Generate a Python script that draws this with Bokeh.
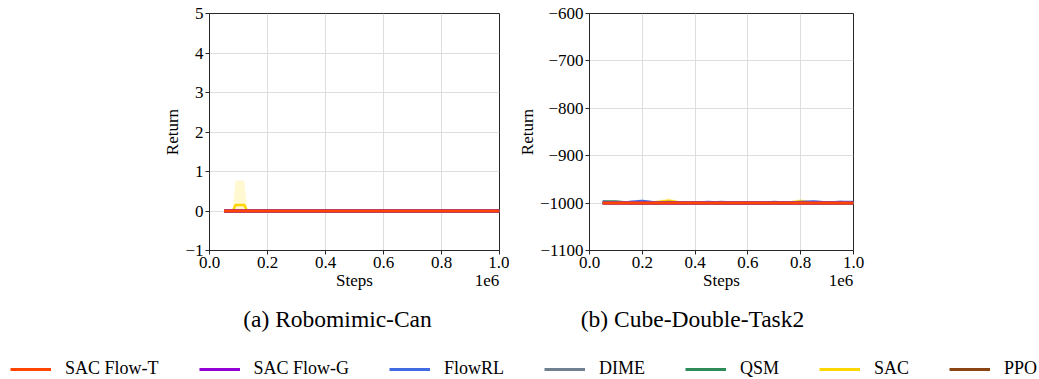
from bokeh.plotting import figure
from bokeh.models import (FixedTicker, CustomJSTickFormatter, Legend,
                          LegendItem, Range1d, LinearAxis, Label)
from bokeh.layouts import column, row
from bokeh.embed import file_html
from bokeh.resources import INLINE

# ---------------- data ----------------
series_names = ["SAC Flow-T", "SAC Flow-G", "FlowRL", "DIME", "QSM", "SAC", "PPO"]
series_colors = ["#FF4500", "#9400D3", "#4169E1", "#708090", "#2E8B57", "#FFD700", "#8B4513"]
captions = ["(a) Robomimic-Can", "(b) Cube-Double-Task2"]

x_ticks = [0, 200000, 400000, 600000, 800000, 1000000]
y_ticks_a = [-1, 0, 1, 2, 3, 4, 5]
y_ticks_b = [-1100, -1000, -900, -800, -700, -600]

# (a) Robomimic-Can
steps_a = [50000, 80000, 90000, 120000, 130000, 200000, 300000, 400000,
           500000, 600000, 700000, 800000, 900000, 1000000]
a_sac_flow_t = [0, 0, 0, 0, 0, 0, 0, 0, 0, 0, 0, 0, 0, 0]
a_sac_flow_g = [0, 0, 0, 0, 0, 0, 0, 0, 0, 0, 0, 0, 0, 0]
a_flowrl = [0, 0, 0, 0, 0, 0, 0, 0, 0, 0, 0, 0, 0, 0]
a_dime = [0, 0, 0, 0, 0, 0, 0, 0, 0, 0, 0, 0, 0, 0]
a_qsm = [0, 0, 0, 0, 0, 0, 0, 0, 0, 0, 0, 0, 0, 0]
a_sac = [0, 0, 0.15, 0.15, 0, 0, 0, 0, 0, 0, 0, 0, 0, 0]
a_ppo = [0, 0, 0, 0, 0, 0, 0, 0, 0, 0, 0, 0, 0, 0]
a_sac_upper = [0, 0, 0.77, 0.77, 0, 0, 0, 0, 0, 0, 0, 0, 0, 0]
a_sac_lower = [0, 0, 0, 0, 0, 0, 0, 0, 0, 0, 0, 0, 0, 0]

# (b) Cube-Double-Task2
steps_b = [50000, 100000, 150000, 200000, 250000, 300000, 350000, 400000,
           450000, 500000, 550000, 600000, 650000, 700000, 750000, 800000,
           850000, 900000, 950000, 1000000]
b_sac_flow_t = [-1000, -1000, -1000, -1000, -1000, -1000, -1000, -1000, -1000, -1000,
                -1000, -1000, -1000, -1000, -1000, -1000, -1000, -1000, -1000, -1000]
b_sac_flow_g = [-1000, -1000, -1000, -1000, -1000, -1000, -1000, -1000, -1000, -1000,
                -1000, -1000, -1000, -1000, -1000, -1000, -1000, -1000, -1000, -1000]
b_flowrl = [-998, -999, -998, -996, -999, -1000, -1000, -1000, -998, -1000,
            -1000, -1000, -1000, -999, -1000, -998, -997, -999, -998, -998]
b_dime = [-1000, -1000, -999, -1000, -1000, -998, -1000, -1000, -1000, -998,
          -1000, -1000, -1000, -998, -1000, -1000, -1000, -1000, -998, -1000]
b_qsm = [-997, -997, -1000, -1000, -1000, -1000, -1000, -1000, -1000, -1000,
         -1000, -1000, -1000, -1000, -1000, -1000, -1000, -1000, -1000, -1000]
b_sac = [-1000, -1000, -998, -999, -998, -995, -999, -998, -998, -999,
         -998, -1000, -1000, -1000, -999, -996, -999, -1000, -1000, -1000]
b_ppo = [-1000, -1000, -1000, -1000, -1000, -1000, -1000, -1000, -1000, -1000,
         -1000, -1000, -1000, -1000, -1000, -1000, -1000, -1000, -1000, -1000]
b_flowrl_upper = [-996, -997, -995, -992, -997, -999, -999, -999, -996, -999,
                  -999, -999, -999, -997, -999, -996, -994, -997, -996, -996]
b_flowrl_lower = [-1001, -1001, -1001, -1001, -1001, -1001, -1001, -1001, -1001, -1001,
                  -1001, -1001, -1001, -1001, -1001, -1001, -1001, -1001, -1001, -1001]
b_sac_upper = [-999, -999, -996, -997, -995, -990, -997, -996, -996, -997,
               -996, -999, -999, -999, -997, -991, -997, -999, -999, -999]
b_sac_lower = [-1001, -1001, -1001, -1001, -1001, -1001, -1001, -1001, -1001, -1001,
               -1001, -1001, -1001, -1001, -1001, -1001, -1001, -1001, -1001, -1001]

series_a = [a_sac_flow_t, a_sac_flow_g, a_flowrl, a_dime, a_qsm, a_sac, a_ppo]
series_b = [b_sac_flow_t, b_sac_flow_g, b_flowrl, b_dime, b_qsm, b_sac, b_ppo]

FONT = "Liberation Serif"
INK = "#262626"


def make_panel(frame_w, left_b, right_b, y_lo, y_hi, y_ticks, offset_tick):
    p = figure(frame_width=frame_w, frame_height=237,
               min_border_left=left_b, min_border_right=right_b,
               min_border_top=13, min_border_bottom=45,
               x_range=Range1d(0, 1000000), y_range=Range1d(y_lo, y_hi),
               output_backend="svg", toolbar_location=None)
    p.xaxis.ticker = FixedTicker(ticks=x_ticks)
    p.yaxis.ticker = FixedTicker(ticks=y_ticks)
    p.xaxis.formatter = CustomJSTickFormatter(code="return (tick / 1e6).toFixed(1);")
    p.yaxis.formatter = CustomJSTickFormatter(
        code="return tick < 0 ? '\\u2212' + Math.abs(tick) : '' + tick;")
    for ax in (p.xaxis[0], p.yaxis[0]):
        ax.major_label_text_font = FONT
        ax.major_label_text_font_size = "17px"
        ax.major_label_text_color = "black"
        ax.axis_label_text_font = FONT
        ax.axis_label_text_font_size = "17px"
        ax.axis_label_text_font_style = "normal"
        ax.axis_label_text_color = "black"
        ax.minor_tick_line_color = None
        ax.major_tick_in = 0
        ax.major_tick_out = 4
        ax.major_tick_line_color = INK
        ax.axis_line_color = INK
        ax.major_label_standoff = 2
    p.yaxis.axis_label = "Return"
    p.yaxis.axis_label_standoff = 0
    # second row under the x axis: "Steps" label and the "1e6" offset text
    ax2 = LinearAxis(ticker=FixedTicker(ticks=[500000, offset_tick]),
                     major_label_overrides={500000: "Steps", offset_tick: "1e6"},
                     axis_line_color=None, major_tick_line_color=None,
                     minor_tick_line_color=None, major_tick_in=0, major_tick_out=0,
                     major_label_standoff=0,
                     major_label_text_font=FONT, major_label_text_font_size="17px",
                     major_label_text_color="black")
    p.add_layout(ax2, "below")
    p.grid.grid_line_color = "#dedede"
    p.grid.grid_line_width = 1
    p.outline_line_color = INK
    p.outline_line_width = 1
    p.background_fill_color = "white"
    p.border_fill_color = "white"
    return p


# ---------------- panel (a) ----------------
pa = make_panel(290, 209, 10, -1, 5, y_ticks_a, 957000)
pa.varea(x=steps_a, y1=a_sac_lower, y2=a_sac_upper, fill_color="#FFD700", fill_alpha=0.18)
for name, color, ys in reversed(list(zip(series_names, series_colors, series_a))):
    pa.line(x=steps_a, y=ys, line_color=color, line_width=3 if name != "SAC" else 2.5)

# ---------------- panel (b) ----------------
pb = make_panel(264, 80, 186, -1100, -600, y_ticks_b, 953000)
pb.varea(x=steps_b, y1=b_flowrl_lower, y2=b_flowrl_upper, fill_color="#4169E1", fill_alpha=0.12)
pb.varea(x=steps_b, y1=b_sac_lower, y2=b_sac_upper, fill_color="#FFD700", fill_alpha=0.2)
for name, color, ys in reversed(list(zip(series_names, series_colors, series_b))):
    pb.line(x=steps_b, y=ys, line_color=color, line_width=3 if name != "SAC" else 2.5)

# ---------------- captions + legend strip ----------------
pl = figure(width=1039, height=84, min_border=0, x_axis_type=None, y_axis_type=None,
            x_range=Range1d(0, 1039), y_range=Range1d(0, 84),
            output_backend="svg", toolbar_location=None)
pl.grid.visible = False
pl.outline_line_color = None
for cx, cap in zip([337, 692], captions):
    pl.add_layout(Label(x=cx, y=61, text=cap, text_align="center", text_baseline="middle",
                        text_font=FONT, text_font_size="23.5px", text_color="black"))
items = []
for name, color in zip(series_names, series_colors):
    r = pl.line(x=[-50, -40], y=[-50, -50], line_color=color, line_width=3)
    items.append(LegendItem(label=name, renderers=[r]))
legend = Legend(items=items, location=(10, 0), orientation="horizontal",
                glyph_width=41, glyph_height=20, label_height=20, label_standoff=14,
                spacing=40, padding=0, margin=0, border_line_color=None,
                background_fill_alpha=0, label_text_font=FONT,
                label_text_font_size="18px", label_text_color="black")
pl.add_layout(legend)

layout = column(row(pa, pb), pl)
open("out.html", "w").write(file_html(layout, INLINE))
